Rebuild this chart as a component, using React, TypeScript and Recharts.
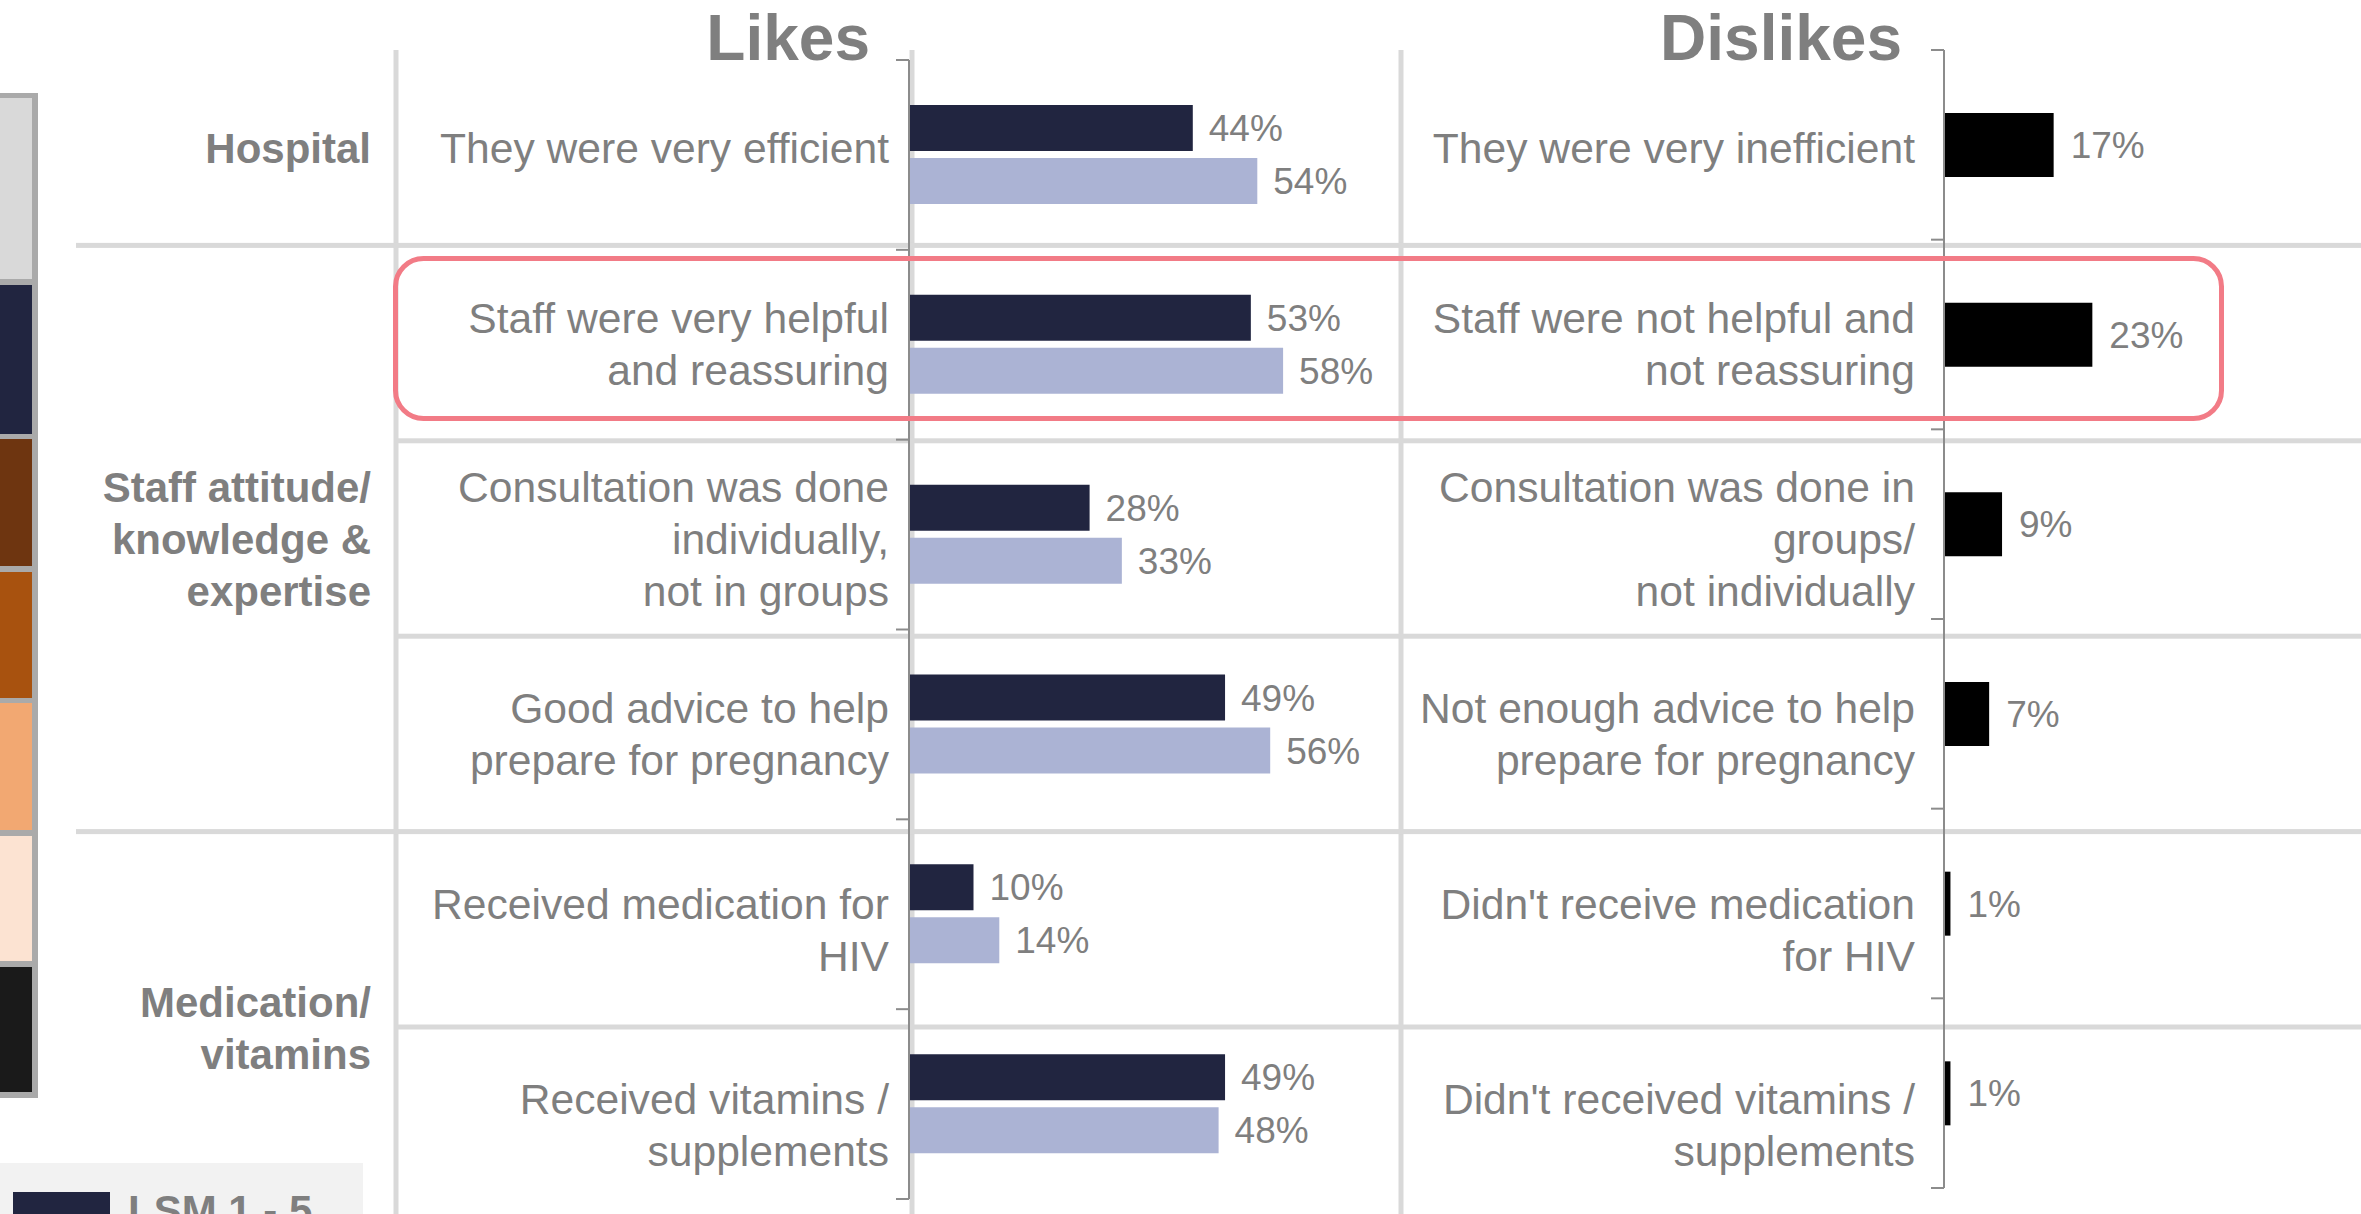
import React from 'react';
import { BarChart, Bar, XAxis, YAxis, LabelList } from 'recharts';

// ---------- data ----------
const likeCategories = [
  'They were very efficient',
  'Staff were very helpful\nand reassuring',
  'Consultation was done\nindividually,\nnot in groups',
  'Good advice to help\nprepare for pregnancy',
  'Received medication for\nHIV',
  'Received vitamins /\nsupplements',
];
const likesLsm1to5 = [44, 53, 28, 49, 10, 49];
const likesOtherLsm = [54, 58, 33, 56, 14, 48];

const dislikeCategories = [
  'They were very inefficient',
  'Staff were not helpful and\nnot reassuring',
  'Consultation was done in\ngroups/\nnot individually',
  'Not enough advice to help\nprepare for pregnancy',
  "Didn't receive medication\nfor HIV",
  "Didn't received vitamins /\nsupplements",
];
const dislikeValues = [17, 23, 9, 7, 1, 1];

const groupLabels = ['Hospital', 'Staff attitude/\nknowledge &\nexpertise', 'Medication/\nvitamins'];
const groupSpans = [1, 3, 2];
const legendLabel = 'LSM 1 - 5';
const swatchColors = ['#d9d9d9', '#212540', '#6e3510', '#a8520f', '#f2a872', '#fce3d2', '#1a1a1a'];

// ---------- layout / style ----------
const FONT = '"Liberation Sans", Arial, Helvetica, sans-serif';
const GREY = '#7f7f7f';
const AXIS = '#8c8c8c';
const LINE = '#d9d9d9';
const NAVY = '#212540';
const LAVENDER = '#abb3d4';
const ROW_TOP = 50;
const ROW_H = 195.4;
const LINE_GAP = 52;
const CAP_HALF = 15.5;
const swatchTops = [98, 285, 439, 572, 703, 836, 967];
const swatchBottoms = [279, 434, 566, 698, 830, 961, 1092];

const pct = (v: any) => `${v}%`;

function MultiLine({ text, x, cy, size = 42.6, weight = 400 }: { text: string; x: number; cy: number; size?: number; weight?: number }) {
  const lines = text.split('\n');
  const n = lines.length;
  return (
    <text textAnchor="end" fill={GREY} fontSize={size} fontWeight={weight} fontFamily={FONT}>
      {lines.map((l, j) => (
        <tspan key={j} x={x} y={cy + (j - (n - 1) / 2) * LINE_GAP + CAP_HALF}>
          {l}
        </tspan>
      ))}
    </text>
  );
}

// tick marks at the band boundaries (Excel style "between" ticks)
function makeBoundaryTick(count: number, plotH: number) {
  return (props: any) => {
    const { x, y, payload, index } = props;
    const half = payload && typeof payload.offset === 'number' && payload.offset > 0 ? payload.offset : plotH / count / 2;
    const i = typeof index === 'number' ? index : 0;
    return (
      <g>
        <line x1={x - 13} x2={x} y1={y - half} y2={y - half} stroke={AXIS} strokeWidth={2} />
        {i === count - 1 ? <line x1={x - 13} x2={x} y1={y + half} y2={y + half} stroke={AXIS} strokeWidth={2} /> : null}
      </g>
    );
  };
}

function LikesChart() {
  const data = likeCategories.map((c, i) => ({ name: c, lsm15: likesLsm1to5[i], other: likesOtherLsm[i] }));
  return (
    <BarChart width={659} height={1149} data={data} layout="vertical" margin={{ top: 5, right: 0, bottom: 5, left: 0 }} barGap={7}>
      <XAxis type="number" domain={[0, 100]} hide />
      <YAxis
        type="category"
        dataKey="name"
        width={14}
        tickSize={0}
        tickMargin={0}
        interval={0}
        tickLine={false}
        axisLine={{ stroke: AXIS, strokeWidth: 2 }}
        tick={makeBoundaryTick(data.length, 1139)}
      />
      <Bar dataKey="lsm15" fill={NAVY} barSize={46} isAnimationActive={false}>
        <LabelList dataKey="lsm15" position="right" offset={16} formatter={pct} fill={GREY} fontSize={37} fontFamily={FONT} />
      </Bar>
      <Bar dataKey="other" fill={LAVENDER} barSize={46} isAnimationActive={false}>
        <LabelList dataKey="other" position="right" offset={16} formatter={pct} fill={GREY} fontSize={37} fontFamily={FONT} />
      </Bar>
    </BarChart>
  );
}

function DislikesChart() {
  const data = dislikeCategories.map((c, i) => ({ name: c, value: dislikeValues[i] }));
  return (
    <BarChart width={659} height={1148} data={data} layout="vertical" margin={{ top: 5, right: 0, bottom: 5, left: 0 }}>
      <XAxis type="number" domain={[0, 100]} hide />
      <YAxis
        type="category"
        dataKey="name"
        width={14}
        tickSize={0}
        tickMargin={0}
        interval={0}
        tickLine={false}
        axisLine={{ stroke: AXIS, strokeWidth: 2 }}
        tick={makeBoundaryTick(data.length, 1138)}
      />
      <Bar dataKey="value" fill="#000000" barSize={64} isAnimationActive={false}>
        <LabelList dataKey="value" position="right" offset={17} formatter={pct} fill={GREY} fontSize={37} fontFamily={FONT} />
      </Bar>
    </BarChart>
  );
}

export default function App() {
  const rowCenter = (i: number) => ROW_TOP + (i + 0.5) * ROW_H;
  const groupStarts: number[] = [];
  let acc = 0;
  groupSpans.forEach((s) => {
    groupStarts.push(acc);
    acc += s;
  });
  const groupBoundaryRows = new Set(groupStarts.slice(1));
  const hLines = [1, 2, 3, 4, 5].map((k) => ({ y: ROW_TOP + k * ROW_H, x1: groupBoundaryRows.has(k) ? 76 : 396 }));

  return (
    <div style={{ position: 'absolute', left: 0, top: 0, width: 2361, height: 1214, overflow: 'hidden', background: '#ffffff', fontFamily: FONT }}>
      {/* left swatch column */}
      <div style={{ position: 'absolute', left: 0, top: 93, width: 38, height: 1005, background: '#aaaaaa' }} />
      {swatchColors.map((c, i) => (
        <div key={i} style={{ position: 'absolute', left: 0, top: swatchTops[i], width: 32, height: swatchBottoms[i] - swatchTops[i], background: c }} />
      ))}

      {/* table lines and text */}
      <svg width={2361} height={1214} style={{ position: 'absolute', left: 0, top: 0 }}>
        {[396, 912, 1401].map((x) => (
          <rect key={x} x={x - 2.5} y={ROW_TOP} width={5} height={1214 - ROW_TOP} fill={LINE} />
        ))}
        {hLines.map((l, i) => (
          <rect key={i} x={l.x1} y={l.y - 2.5} width={2361 - l.x1} height={5} fill={LINE} />
        ))}
        <text x={870} y={60} textAnchor="end" fill={GREY} fontSize={64} fontWeight={700} fontFamily={FONT}>
          Likes
        </text>
        <text x={1902} y={60} textAnchor="end" fill={GREY} fontSize={64} fontWeight={700} fontFamily={FONT}>
          Dislikes
        </text>
        {groupLabels.map((g, gi) => {
          const start = groupStarts[gi];
          const cy = ROW_TOP + (start + groupSpans[gi] / 2) * ROW_H;
          return <MultiLine key={gi} text={g} x={371} cy={cy} size={42} weight={700} />;
        })}
        {likeCategories.map((c, i) => (
          <MultiLine key={'l' + i} text={c} x={889} cy={rowCenter(i)} />
        ))}
        {dislikeCategories.map((c, i) => (
          <MultiLine key={'d' + i} text={c} x={1915} cy={rowCenter(i)} />
        ))}
      </svg>

      <div style={{ position: 'absolute', left: 895, top: 55 }}>
        <LikesChart />
      </div>
      <div style={{ position: 'absolute', left: 1930, top: 45 }}>
        <DislikesChart />
      </div>

      {/* highlight box */}
      <svg width={2361} height={1214} style={{ position: 'absolute', left: 0, top: 0, pointerEvents: 'none' }}>
        <rect x={395.5} y={258.5} width={1826} height={160} rx={28} ry={28} fill="none" stroke="#f27b86" strokeWidth={5} />
      </svg>

      {/* bottom legend */}
      <div style={{ position: 'absolute', left: 0, top: 1163, width: 363, height: 60, background: '#f2f2f2' }} />
      <div style={{ position: 'absolute', left: 13, top: 1192, width: 97, height: 40, background: NAVY }} />
      <svg width={400} height={1214} style={{ position: 'absolute', left: 0, top: 0 }}>
        <text x={128} y={1225} fill={GREY} fontSize={42} fontWeight={700} fontFamily={FONT}>
          {legendLabel}
        </text>
      </svg>
    </div>
  );
}
